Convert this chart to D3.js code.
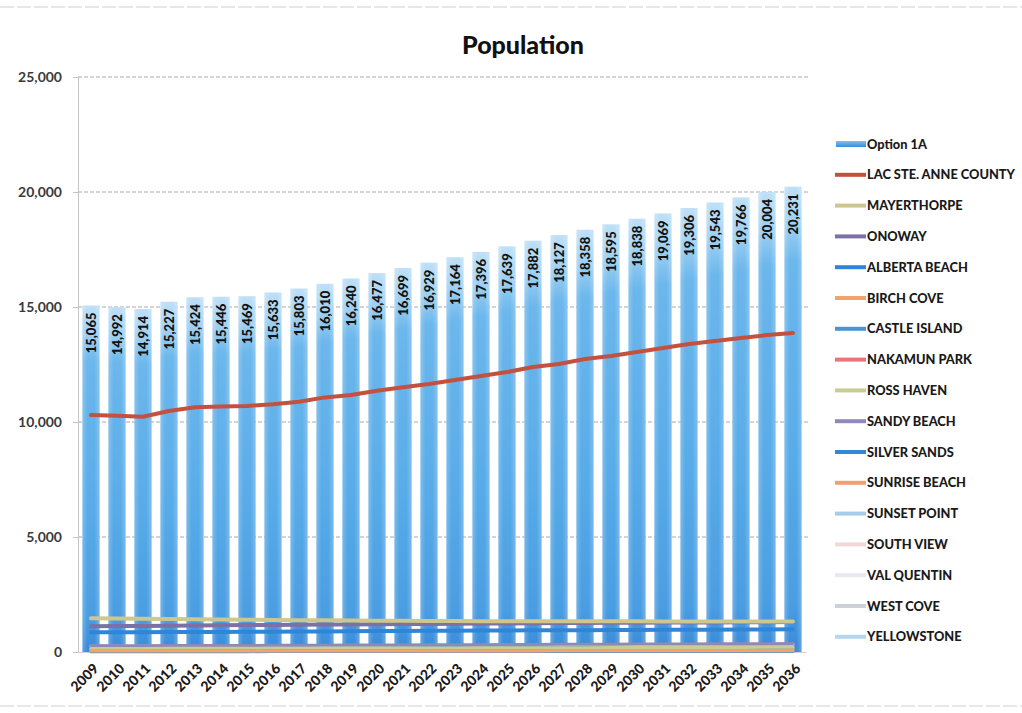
<!DOCTYPE html>
<html>
<head>
<meta charset="utf-8">
<script src="https://cdnjs.cloudflare.com/ajax/libs/d3/7.8.5/d3.min.js"></script>
<style>
  html, body { margin: 0; padding: 0; background: #fff; }
  svg { display: block; font-family: Lato, "Open Sans", "DejaVu Sans", sans-serif; }
</style>
</head>
<body>
<svg id="chart" width="1022" height="713"></svg>
<script>
// Years on the category axis
const years = ["2009","2010","2011","2012","2013","2014","2015","2016","2017","2018","2019","2020","2021","2022",
               "2023","2024","2025","2026","2027","2028","2029","2030","2031","2032","2033","2034","2035","2036"];

// Total population for Option 1A (columns)
const option1A = [15065,14992,14914,15227,15424,15446,15469,15633,15803,16010,16240,16477,16699,16929,
                  17164,17396,17639,17882,18127,18358,18595,18838,19069,19306,19543,19766,20004,20231];

// Municipal populations (lines)
const lacSteAnne  = [10300,10270,10230,10480,10640,10670,10700,10770,10880,11070,11170,11360,11510,11650,
                     11830,12000,12170,12390,12520,12740,12870,13040,13220,13390,13520,13650,13780,13870];
const mayerthorpe = [1470,1455,1442,1430,1420,1410,1400,1392,1385,1378,1370,1362,1355,1350,
                     1346,1342,1340,1338,1336,1334,1333,1332,1331,1330,1330,1329,1329,1328];
const onoway      = [1120,1128,1135,1145,1155,1162,1170,1178,1185,1192,1200,1208,1215,1222,
                     1230,1237,1244,1250,1256,1262,1268,1273,1278,1283,1288,1292,1296,1300];
const albertaBeach= [862,858,855,865,870,874,878,884,890,896,902,908,914,920,
                     926,931,936,941,946,951,956,960,964,968,972,976,980,984];
const birchCove   = [40,40,41,41,42,42,43,43,44,44,45,45,46,46,47,47,48,48,49,49,50,50,51,51,52,52,53,53];
const castleIsland= [15,15,15,16,16,16,16,17,17,17,17,18,18,18,18,19,19,19,19,20,20,20,20,21,21,21,21,22];
const nakamunPark = [39,39,40,40,41,41,42,42,43,43,44,44,45,45,46,46,47,47,48,48,49,49,50,50,51,51,52,52];
const rossHaven   = [156,156,157,159,161,162,163,165,167,169,171,173,175,177,179,181,183,185,187,189,191,193,195,197,199,201,203,205];
const sandyBeach  = [278,277,276,280,284,285,286,289,292,296,300,304,308,312,316,320,324,328,332,336,340,344,348,352,356,360,364,368];
const silverSands = [161,160,160,162,164,165,166,168,170,172,174,176,178,180,182,184,186,188,190,192,194,196,198,200,202,204,206,208];
const sunriseBeach= [129,128,128,130,132,132,133,134,136,138,139,141,143,145,146,148,150,152,154,156,158,160,162,164,166,168,170,172];
const sunsetPoint = [169,168,168,170,172,173,174,176,178,180,182,184,186,188,190,192,194,196,198,200,202,204,206,208,210,212,214,216];
const southView   = [73,73,73,74,75,75,76,77,78,79,80,81,82,83,84,85,86,87,88,89,90,91,92,93,94,95,96,97];
const valQuentin  = [252,251,250,254,258,259,260,263,266,269,272,275,278,281,284,287,290,293,296,299,302,305,308,311,314,317,320,323];
const westCove    = [130,130,129,131,133,134,135,136,138,140,142,144,146,148,150,152,154,156,158,160,162,164,166,168,170,172,174,176];
const yellowstone = [148,148,147,150,152,153,154,156,158,160,162,164,166,168,170,172,174,176,178,180,182,184,186,188,190,192,194,196];

const yTicks = [0, 5000, 10000, 15000, 20000, 25000];

const lineSeries = [
  { name: "LAC STE. ANNE COUNTY", values: lacSteAnne,   color: "#c4503f", width: 4 },
  { name: "MAYERTHORPE",          values: mayerthorpe,  color: "#cdc68e", width: 4 },
  { name: "ONOWAY",               values: onoway,       color: "#7d70a6", width: 4 },
  { name: "ALBERTA BEACH",        values: albertaBeach, color: "#2f86d8", width: 4 },
  { name: "BIRCH COVE",           values: birchCove,    color: "#f4a46a", width: 3 },
  { name: "CASTLE ISLAND",        values: castleIsland, color: "#4a93d6", width: 3 },
  { name: "NAKAMUN PARK",         values: nakamunPark,  color: "#e6767c", width: 3 },
  { name: "ROSS HAVEN",           values: rossHaven,    color: "#cacd90", width: 3 },
  { name: "SANDY BEACH",          values: sandyBeach,   color: "#8f89b9", width: 3 },
  { name: "SILVER SANDS",         values: silverSands,  color: "#3389d8", width: 3 },
  { name: "SUNRISE BEACH",        values: sunriseBeach, color: "#f3a070", width: 3 },
  { name: "SUNSET POINT",         values: sunsetPoint,  color: "#a5cdea", width: 3 },
  { name: "SOUTH VIEW",           values: southView,    color: "#f3d6d8", width: 3 },
  { name: "VAL QUENTIN",          values: valQuentin,   color: "#e6e8ef", width: 3 },
  { name: "WEST COVE",            values: westCove,     color: "#cdd2da", width: 3 },
  { name: "YELLOWSTONE",          values: yellowstone,  color: "#b5d6ee", width: 3 }
];

const svg = d3.select("#chart");

const plot = { left: 78, right: 806, top: 77, bottom: 652 };

const x = d3.scaleBand().domain(years).range([plot.left, plot.right]).paddingInner(0.34).paddingOuter(0.17);
const y = d3.scaleLinear().domain([0, 25000]).range([plot.bottom, plot.top]);

// Gradients for the columns
const defs = svg.append("defs");
const vg = defs.append("linearGradient").attr("id", "barV").attr("x1", 0).attr("y1", 0).attr("x2", 0).attr("y2", 1);
[["0%", "#bfe0f7"], ["9%", "#98cdf2"], ["16%", "#6cb7ec"], ["60%", "#58abe8"], ["90%", "#4a9de1"], ["100%", "#388ad7"]]
  .forEach(([o, c]) => vg.append("stop").attr("offset", o).attr("stop-color", c));
const hg = defs.append("linearGradient").attr("id", "barH").attr("x1", 0).attr("y1", 0).attr("x2", 1).attr("y2", 0);
[["0%", 0.22], ["30%", 0], ["70%", 0], ["100%", 0.22]]
  .forEach(([o, a]) => hg.append("stop").attr("offset", o).attr("stop-color", "#ffffff").attr("stop-opacity", a));
const lg = defs.append("linearGradient").attr("id", "legBar").attr("x1", 0).attr("y1", 0).attr("x2", 0).attr("y2", 1);
[["0%", "#7cc2f0"], ["100%", "#3a8cd8"]].forEach(([o, c]) => lg.append("stop").attr("offset", o).attr("stop-color", c));

// Faint outer frame
svg.append("line").attr("x1", 0).attr("x2", 1022).attr("y1", 7).attr("y2", 7)
  .attr("stroke", "#cfcfcf").attr("stroke-width", 1).attr("stroke-dasharray", "14,3");
svg.append("line").attr("x1", 0).attr("x2", 1022).attr("y1", 706).attr("y2", 706)
  .attr("stroke", "#cfcfcf").attr("stroke-width", 1).attr("stroke-dasharray", "14,3");

// Title
svg.append("text").attr("x", 523).attr("y", 54).attr("text-anchor", "middle")
  .attr("font-size", 25).attr("font-weight", 900).attr("fill", "#111").text("Population");

// Gridlines
svg.append("g").selectAll("line").data(yTicks.filter(d => d > 0)).join("line")
  .attr("x1", plot.left).attr("x2", plot.right + 2)
  .attr("y1", d => y(d)).attr("y2", d => y(d))
  .attr("stroke", "#a9a9a9").attr("stroke-width", 1).attr("stroke-dasharray", "4,2");

// Y axis
const yAxis = svg.append("g").attr("transform", `translate(${plot.left},0)`)
  .call(d3.axisLeft(y).tickValues(yTicks).tickSize(5).tickPadding(11).tickFormat(d3.format(",")));
yAxis.select(".domain").attr("stroke", "#c4c4c4");
yAxis.selectAll(".tick line").attr("stroke", "#c4c4c4");
yAxis.selectAll("text").attr("font-size", 14).attr("font-weight", 700).attr("fill", "#3a3a3a")
  .attr("font-family", "Lato, sans-serif");

// X axis
const xAxis = svg.append("g").attr("transform", `translate(0,${plot.bottom})`)
  .call(d3.axisBottom(x).tickSize(0).tickPadding(0));
xAxis.select(".domain").attr("stroke", "#d0d0d0");
xAxis.selectAll("text")
  .attr("font-size", 14).attr("font-weight", 900).attr("fill", "#1a1a1a").attr("font-family", "Lato, sans-serif")
  .attr("text-anchor", "end").attr("dy", "0.35em")
  .attr("transform", "translate(5,14) rotate(-45)");

// Columns
const bars = svg.append("g");
bars.selectAll("rect.bar").data(option1A).join("rect").attr("class", "bar")
  .attr("x", (d, i) => x(years[i])).attr("width", x.bandwidth())
  .attr("y", d => y(d)).attr("height", d => y(0) - y(d))
  .attr("fill", "url(#barV)");
bars.selectAll("rect.sheen").data(option1A).join("rect").attr("class", "sheen")
  .attr("x", (d, i) => x(years[i])).attr("width", x.bandwidth())
  .attr("y", d => y(d)).attr("height", d => y(0) - y(d))
  .attr("fill", "url(#barH)");

// Lines (smallest first so the county line sits on top)
const line = d3.line().x((d, i) => x(years[i]) + x.bandwidth() / 2).y(d => y(d));
svg.append("g").selectAll("path").data(lineSeries.slice().reverse()).join("path")
  .attr("d", s => line(s.values)).attr("fill", "none")
  .attr("stroke", s => s.color).attr("stroke-width", s => s.width)
  .attr("stroke-linejoin", "round").attr("stroke-linecap", "round");

// Column value labels
svg.append("g").selectAll("text").data(option1A).join("text")
  .attr("transform", (d, i) => `translate(${x(years[i]) + x.bandwidth() / 2},${y(d) + 7}) rotate(-90)`)
  .attr("text-anchor", "end").attr("dy", "0.36em")
  .attr("font-size", 13).attr("font-weight", 900).attr("fill", "#111")
  .text(d => d3.format(",")(d));

// Legend
const legendItems = [{ name: "Option 1A", bar: true }].concat(lineSeries);
const legend = svg.append("g");
const rowY = i => 144 + i * 30.8;
legendItems.forEach((item, i) => {
  const g = legend.append("g").attr("transform", `translate(0,${rowY(i)})`);
  if (item.bar) {
    g.append("rect").attr("x", 836).attr("y", -3).attr("width", 30).attr("height", 6).attr("fill", "url(#legBar)");
  } else {
    g.append("line").attr("x1", 835).attr("x2", 866).attr("y1", 0).attr("y2", 0)
      .attr("stroke", item.color).attr("stroke-width", 4);
  }
  g.append("text").attr("x", 867).attr("y", 0).attr("dy", "0.36em")
    .attr("font-size", 12.8).attr("font-weight", 900).attr("fill", "#1a1a1a")
    .text(item.name);
});
</script>
</body>
</html>
